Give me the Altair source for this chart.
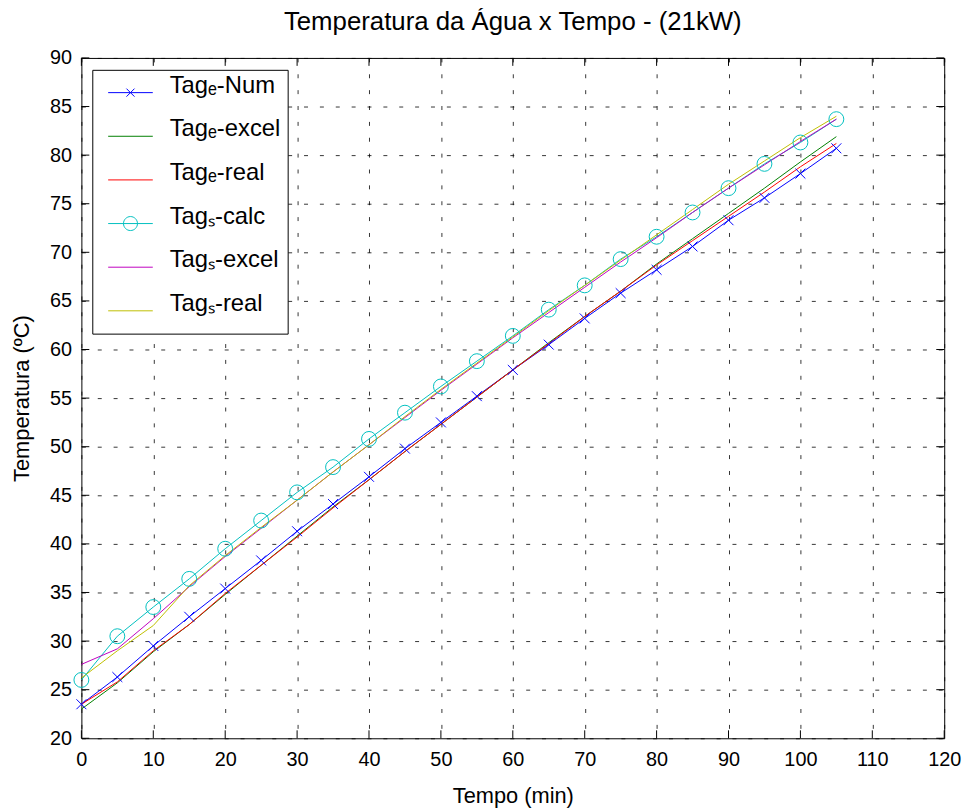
import altair as alt
import pandas as pd

tempo = [0, 5, 10, 15, 20, 25, 30, 35, 40, 45, 50, 55, 60, 65, 70, 75, 80, 85, 90, 95, 100, 105]
tag_e_num = [23.5, 26.3, 29.5, 32.5, 35.4, 38.3, 41.3, 44.1, 46.9, 49.8, 52.5, 55.2, 57.9, 60.5, 63.2, 65.8, 68.2, 70.6, 73.3, 75.6, 78.1, 80.7]
tag_e_excel = [23.0, 25.7, 28.9, 31.7, 34.8, 37.8, 40.8, 43.8, 46.6, 49.5, 52.3, 55.1, 57.9, 60.7, 63.4, 66.0, 68.8, 71.4, 74.0, 76.6, 79.3, 81.9]
tag_e_real = [23.5, 25.8, 29.0, 31.7, 34.9, 37.8, 40.7, 43.7, 46.6, 49.5, 52.3, 55.1, 57.9, 60.6, 63.4, 66.0, 68.7, 71.2, 73.7, 76.2, 78.8, 81.2]
tag_s_calc = [26.0, 30.5, 33.5, 36.4, 39.5, 42.4, 45.3, 47.9, 50.8, 53.5, 56.2, 58.8, 61.4, 64.1, 66.6, 69.3, 71.6, 74.1, 76.6, 79.1, 81.3, 83.7]
tag_s_excel = [27.6, 29.2, 32.3, 35.6, 38.7, 41.6, 44.5, 47.4, 50.2, 53.0, 55.8, 58.5, 61.2, 63.8, 66.4, 69.0, 71.5, 74.1, 76.6, 79.0, 81.4, 83.7]
tag_s_real = [26.2, 29.0, 31.6, 35.7, 38.8, 41.7, 44.5, 47.4, 50.2, 53.1, 55.9, 58.6, 61.3, 64.0, 66.6, 69.2, 71.8, 74.4, 77.0, 79.4, 81.8, 84.0]

series_names = ["Tagₑ-Num", "Tagₑ-excel", "Tagₑ-real", "Tagₛ-calc", "Tagₛ-excel", "Tagₛ-real"]
series_colors = ["#0000ff", "#008000", "#ff0000", "#00bfbf", "#bf00bf", "#bfbf00"]
x_ticks = [0, 10, 20, 30, 40, 50, 60, 70, 80, 90, 100, 110, 120]
y_ticks = [20, 25, 30, 35, 40, 45, 50, 55, 60, 65, 70, 75, 80, 85, 90]

rows = []
for name, vals in zip(series_names, [tag_e_num, tag_e_excel, tag_e_real, tag_s_calc, tag_s_excel, tag_s_real]):
    for t, v in zip(tempo, vals):
        rows.append({"Tempo": t, "Temp": v, "Serie": name})
df = pd.DataFrame(rows)

W, H = 870, 686
FONT = "Liberation Sans"
TICK = 8

xscale = alt.Scale(domain=[0, 120], nice=False, zero=False)
yscale = alt.Scale(domain=[20, 90], nice=False, zero=False)

LINE = "M-1.5,0L1.5,0"
CROSS_S = "M-0.27,-0.27L0.27,0.27M-0.27,0.27L0.27,-0.27"
CIRC_S = "M-0.47,0A0.47,0.47 0 1,0 0.47,0A0.47,0.47 0 1,0 -0.47,0"
legend_shapes = [LINE + CROSS_S, LINE, LINE, LINE + CIRC_S, LINE, LINE]

x_axis = alt.Axis(values=x_ticks, title="Tempo (min)", grid=True, gridDash=[4, 12],
                  gridColor="black", gridOpacity=0.8, ticks=False, domain=False,
                  labelPadding=11, titlePadding=17, labelFlush=False)
y_axis = alt.Axis(values=y_ticks, title="Temperatura (ºC)", grid=True, gridDash=[4, 12],
                  gridColor="black", gridOpacity=0.8, ticks=False, domain=False,
                  labelPadding=10, titlePadding=16, labelFlush=False)

X = alt.X("Tempo:Q", scale=xscale, axis=x_axis)
Y = alt.Y("Temp:Q", scale=yscale, axis=y_axis)

base = alt.Chart(df).encode(x=X, y=Y)

# stroke scale takes its (sorted) domain from the data, so it does not merge with the legend below
lines = base.mark_line(strokeWidth=1).encode(
    stroke=alt.Stroke("Serie:N", scale=alt.Scale(range=series_colors), legend=None),
    detail="Serie:N",
)

num_pts = base.transform_filter(alt.datum.Serie == series_names[0]).mark_point(
    shape="M-1,-1L1,1M-1,1L1,-1", size=100, color="#0000ff", strokeWidth=1, filled=False, opacity=1
)
calc_pts = base.transform_filter(alt.datum.Serie == series_names[3]).mark_point(
    shape="circle", size=225, color="#00bfbf", strokeWidth=1, filled=False, opacity=1
)

leg = alt.Legend(orient="none", legendX=11, legendY=12, title=None,
                 strokeColor="black", fillColor="white", padding=7,
                 labelFont=FONT, labelFontSize=24, labelColor="black",
                 labelBaseline="alphabetic", labelOffset=24, symbolOffset=16,
                 labelExpr="datum.label + '\u2003\u2003'",
                 symbolSize=900, symbolStrokeWidth=1, rowPadding=9, clipHeight=32)

legend_layer = base.mark_point(
    size=0, strokeWidth=1, filled=False, opacity=1
).encode(
    color=alt.Color("Serie:N", scale=alt.Scale(domain=series_names, range=series_colors), legend=leg),
    shape=alt.Shape("Serie:N", scale=alt.Scale(domain=series_names, range=legend_shapes), legend=leg),
)

xt_df = pd.DataFrame({"Tempo": x_ticks})
yt_df = pd.DataFrame({"Temp": y_ticks})
xt = alt.Chart(xt_df).mark_rule(color="black", strokeWidth=1)
yt = alt.Chart(yt_df).mark_rule(color="black", strokeWidth=1)
xb = xt.encode(x=X, y=alt.value(H), y2=alt.value(H - TICK))
xtop = xt.encode(x=X, y=alt.value(0), y2=alt.value(TICK))
yl = yt.encode(y=Y, x=alt.value(0), x2=alt.value(TICK))
yr = yt.encode(y=Y, x=alt.value(W), x2=alt.value(W - TICK))

chart = alt.layer(lines, num_pts, calc_pts, xb, xtop, yl, yr, legend_layer).properties(
    width=W, height=H,
    title=alt.TitleParams("Temperatura da Água x Tempo - (21kW)", font=FONT, fontSize=26,
                          fontWeight="normal", color="black", offset=13),
    autosize=alt.AutoSizeParams(type="none"),
    padding={"left": 74, "top": 47, "right": 26, "bottom": 71},
    background="white",
).configure_view(stroke="black", strokeWidth=1).configure_axis(
    labelFont=FONT, labelFontSize=20, labelColor="black",
    titleFont=FONT, titleFontSize=22, titleFontWeight="normal", titleColor="black",
)

chart.save("out.html", embed_options={"renderer": "svg", "actions": False})
